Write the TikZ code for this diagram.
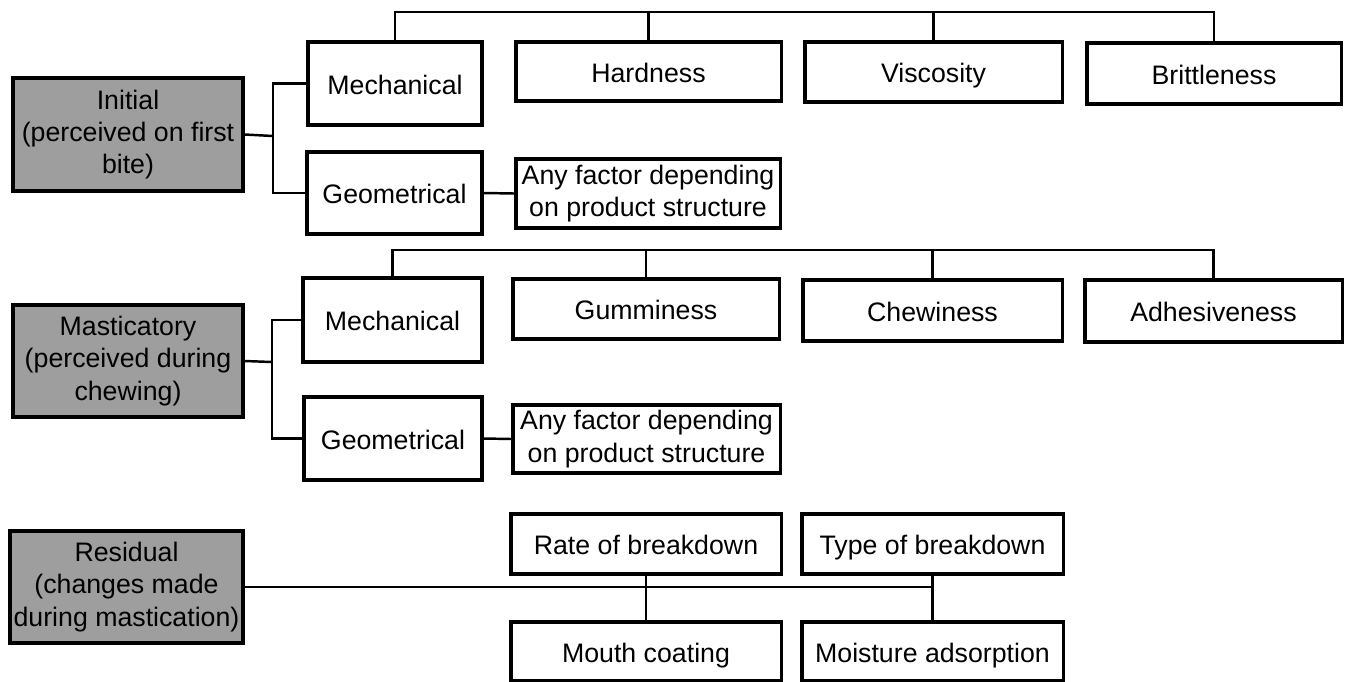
\documentclass[tikz,border=0pt]{standalone}
\usepackage{fontspec}
\setmainfont{Liberation Sans}

\tikzset{
  box/.style={draw, line width=0.9pt, inner sep=0pt, align=center,
    font=\fontsize{7.6}{9.2}\selectfont},
  item/.style={box, text height=1.6ex, text depth=0.45ex},
  catbox/.style={box, fill=black!38},
  link/.style={line width=0.7pt}
}

\begin{document}
\begin{tikzpicture}[x=0.01cm,y=-0.01cm]
\useasboundingbox (0,0) rectangle (1351,681);

% initial
\node[catbox, minimum width=2.30cm, minimum height=1.13cm] (ini) at (128,134.5) {Initial\\(perceived on first\\bite)};
\node[item, minimum width=1.74cm, minimum height=0.83cm] (mechA) at (395,83.5) {Mechanical};
\node[item, minimum width=1.75cm, minimum height=0.82cm] (geoA) at (394.5,193) {Geometrical};
\node[item, minimum width=2.65cm, minimum height=0.59cm] (hard) at (648.5,71.5) {Hardness};
\node[item, minimum width=2.57cm, minimum height=0.60cm] (visc) at (933.5,72) {Viscosity};
\node[item, minimum width=2.54cm, minimum height=0.61cm] (brit) at (1214,73.5) {Brittleness};
\node[box, minimum width=2.64cm, minimum height=0.69cm] (anyA) at (648,193.5) {Any factor depending\\on product structure};

% masticatory
\node[catbox, minimum width=2.30cm, minimum height=1.12cm] (mas) at (128,361) {Masticatory\\(perceived during\\chewing)};
\node[item, minimum width=1.79cm, minimum height=0.84cm] (mechB) at (392.5,320) {Mechanical};
\node[item, minimum width=1.78cm, minimum height=0.83cm] (geoB) at (393,438.5) {Geometrical};
\node[item, minimum width=2.66cm, minimum height=0.60cm] (gum) at (646,309) {Gumminess};
\node[item, minimum width=2.59cm, minimum height=0.61cm] (chew) at (932.5,310.5) {Chewiness};
\node[item, minimum width=2.57cm, minimum height=0.62cm] (adh) at (1213.5,311) {Adhesiveness};
\node[box, minimum width=2.67cm, minimum height=0.68cm] (anyB) at (646.5,439) {Any factor depending\\on product structure};

% residual
\node[catbox, minimum width=2.33cm, minimum height=1.12cm] (res) at (126.5,587) {Residual\\(changes made\\during mastication)};
\node[item, minimum width=2.70cm, minimum height=0.60cm] (rate) at (646,544) {Rate of breakdown};
\node[item, minimum width=2.61cm, minimum height=0.60cm] (type) at (932.5,544) {Type of breakdown};
\node[item, minimum width=2.70cm, minimum height=0.59cm] (mouth) at (646,651.5) {Mouth coating};
\node[item, minimum width=2.61cm, minimum height=0.59cm] (moist) at (932.5,651.5) {Moisture adsorption};

\coordinate (jA) at (273,136);
\coordinate (barA) at (0,12);
\coordinate (jB) at (272,362);
\coordinate (barB) at (0,250);

\draw[link] (ini.east) -- (jA);
\draw[link] (mechA.west) -| (jA);
\draw[link] (geoA.west) -| (jA);
\draw[link] (geoA.east) -- (anyA.west);
\draw[link] (mechA.north) |- (brit.north |- barA) -- (brit.north);
\draw[link] (hard.north) -- (hard.north |- barA);
\draw[link] (visc.north) -- (visc.north |- barA);

\draw[link] (mas.east) -- (jB);
\draw[link] (mechB.west) -| (jB);
\draw[link] (geoB.west) -| (jB);
\draw[link] (geoB.east) -- (anyB.west);
\draw[link] (mechB.north) |- (adh.north |- barB) -- (adh.north);
\draw[link] (gum.north) -- (gum.north |- barB);
\draw[link] (chew.north) -- (chew.north |- barB);

\draw[link] (res.east) -- (res.east -| type.south);
\draw[link] (rate.south) -- (mouth.north);
\draw[link] (type.south) -- (moist.north);
\end{tikzpicture}
\end{document}
